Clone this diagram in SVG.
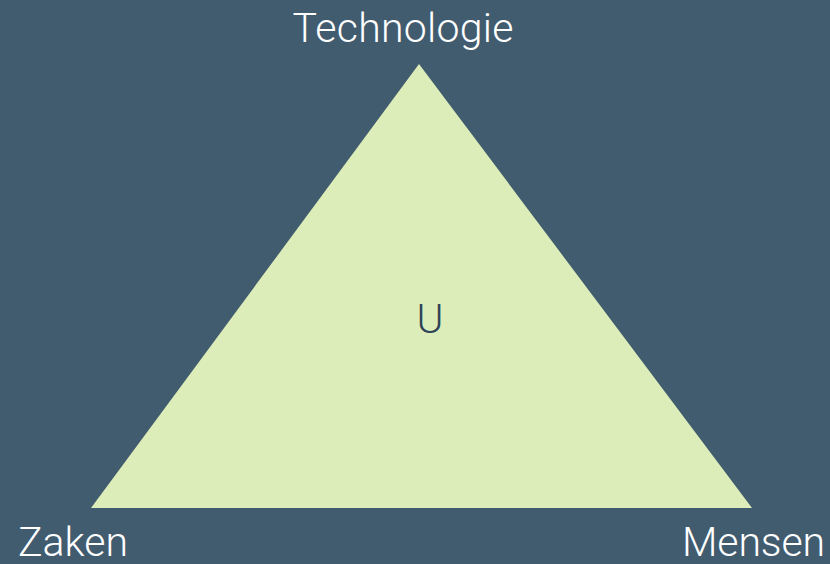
<svg xmlns="http://www.w3.org/2000/svg" width="830" height="564" viewBox="0 0 830 564">
<style>
.lbl{font-family:Roboto,"Liberation Sans",Arial,sans-serif;font-size:41px;fill:#ffffff;font-weight:300}
.in{font-family:Roboto,"Liberation Sans",Arial,sans-serif;font-size:41px;fill:#2f4456;font-weight:300}
</style>
<rect width="830" height="564" fill="#415b6f"/>
<g id="triangle">
<polygon points="419,64 752,508 91,508" fill="#ddedb9"/>
<text class="in" x="430" y="333" text-anchor="middle">U</text>
</g>
<g id="technologie"><text class="lbl" x="403" y="42" text-anchor="middle" textLength="221">Technologie</text></g>
<g id="zaken"><text class="lbl" x="18" y="556" textLength="110">Zaken</text></g>
<g id="mensen"><text class="lbl" x="682" y="556" textLength="143">Mensen</text></g>
<g id="connectors"></g>
</svg>
